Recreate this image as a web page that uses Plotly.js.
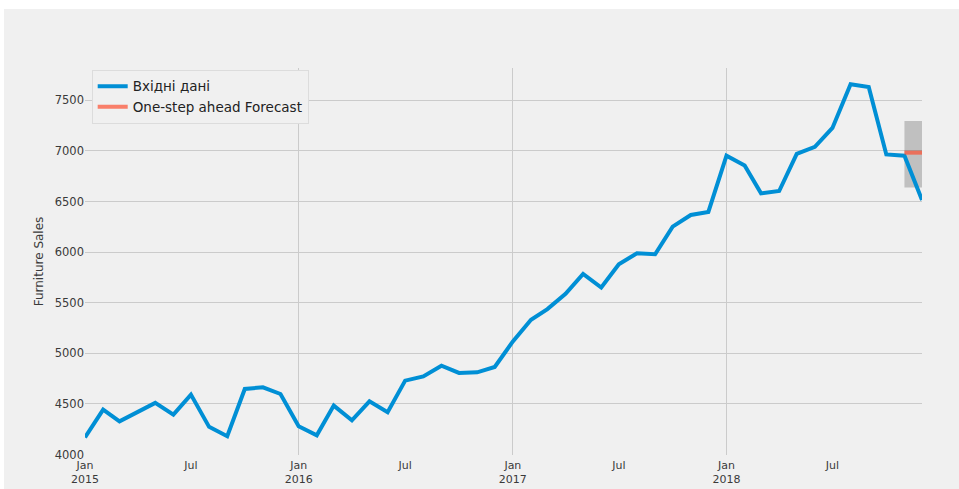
<!DOCTYPE html>
<html>
<head>
<meta charset="utf-8">
<script src="https://cdn.plot.ly/plotly-3.0.1.min.js"></script>
<style>
  html, body { margin: 0; padding: 0; background: #ffffff; width: 959px; height: 489px; overflow: hidden; }
  #chart { position: absolute; left: 4px; top: 9px; width: 955px; height: 480px; }
</style>
</head>
<body>
<div id="chart"></div>
<script>
const months = [
  '2015-01-01','2015-02-01','2015-03-01','2015-04-01','2015-05-01','2015-06-01',
  '2015-07-01','2015-08-01','2015-09-01','2015-10-01','2015-11-01','2015-12-01',
  '2016-01-01','2016-02-01','2016-03-01','2016-04-01','2016-05-01','2016-06-01',
  '2016-07-01','2016-08-01','2016-09-01','2016-10-01','2016-11-01','2016-12-01',
  '2017-01-01','2017-02-01','2017-03-01','2017-04-01','2017-05-01','2017-06-01',
  '2017-07-01','2017-08-01','2017-09-01','2017-10-01','2017-11-01','2017-12-01',
  '2018-01-01','2018-02-01','2018-03-01','2018-04-01','2018-05-01','2018-06-01',
  '2018-07-01','2018-08-01','2018-09-01','2018-10-01','2018-11-01','2018-12-01'
];
const sales = [
  4168, 4444, 4328, 4417, 4510, 4394, 4592, 4273, 4181, 4648, 4664, 4598,
  4279, 4190, 4483, 4338, 4526, 4417, 4730, 4772, 4878, 4806, 4812, 4865,
  5118, 5331, 5437, 5588, 5785, 5650, 5880, 5989, 5979, 6252, 6367, 6397,
  6953, 6857, 6581, 6604, 6972, 7041, 7228, 7659, 7632, 6966, 6953, 6515
];
const forecastDates = ['2018-11-01', '2018-12-01'];
const forecast = [6983, 6983];
const ciLower = [6640, 6640];
const ciUpper = [7297, 7297];

const tickVals = ['2015-01-01','2015-07-01','2016-01-01','2016-07-01','2017-01-01','2017-07-01','2018-01-01','2018-07-01'];
const tickText = ['Jan<br>2015','Jul','Jan<br>2016','Jul','Jan<br>2017','Jul','Jan<br>2018','Jul'];
const gridDates = ['2015-01-01','2016-01-01','2017-01-01','2018-01-01'];
const yTicks = [4000, 4500, 5000, 5500, 6000, 6500, 7000, 7500];

const seriesNames = ['Вхідні дані', 'One-step ahead Forecast'];
const xTitle = 'Date';
const yTitle = 'Furniture Sales';

const data = [
  { x: forecastDates, y: ciUpper, mode: 'lines', line: { width: 0 }, showlegend: false, hoverinfo: 'skip' },
  { x: forecastDates, y: ciLower, mode: 'lines', line: { width: 0 }, fill: 'tonexty',
    fillcolor: 'rgba(0,0,0,0.2)', showlegend: false, hoverinfo: 'skip' },
  { x: months, y: sales, mode: 'lines', name: seriesNames[0],
    line: { color: '#008fd5', width: 4 } },
  { x: forecastDates, y: forecast, mode: 'lines', name: seriesNames[1],
    line: { color: 'rgba(252,79,48,0.7)', width: 4 } }
];

const layout = {
  width: 955, height: 480,
  paper_bgcolor: '#f0f0f0', plot_bgcolor: '#f0f0f0',
  margin: { l: 81, r: 37, t: 59, b: 34 },
  font: { family: 'DejaVu Sans, sans-serif', color: '#3a3a3a', size: 11 },
  showlegend: true,
  legend: {
    x: 0.008, y: 0.995, xanchor: 'left', yanchor: 'top',
    traceorder: 'normal',
    bgcolor: '#f0f0f0', bordercolor: '#dcdcdc', borderwidth: 1,
    font: { family: 'DejaVu Sans, sans-serif', size: 13.5, color: '#222' },
    tracegroupgap: 0
  },
  xaxis: {
    type: 'date',
    range: ['2015-01-01', '2018-12-01'],
    tickmode: 'array', tickvals: tickVals, ticktext: tickText,
    showgrid: false, zeroline: false, showline: false, ticks: '',
    ticklabelstandoff: 2,
    tickfont: { size: 11, color: '#3a3a3a' },
    minor: { tickmode: 'array', tickvals: gridDates,
             showgrid: true, gridcolor: '#cbcbcb', gridwidth: 1, ticks: '' }
  },
  yaxis: {
    range: [3995, 7820],
    tickmode: 'array', tickvals: yTicks,
    showgrid: true, gridcolor: '#cbcbcb', gridwidth: 1,
    zeroline: false, showline: false, ticks: '',
    tickfont: { size: 11.5, color: '#3a3a3a' },
    title: { text: yTitle, font: { size: 12, color: '#3a3a3a' }, standoff: 8 }
  },
  annotations: [
    { text: xTitle, xref: 'paper', yref: 'paper', x: 0.5, y: -0.085,
      xanchor: 'center', yanchor: 'top', showarrow: false,
      font: { size: 12, color: '#3a3a3a' } }
  ],
  hovermode: false
};

Plotly.newPlot('chart', data, layout, { displayModeBar: false, staticPlot: true });
</script>
</body>
</html>
